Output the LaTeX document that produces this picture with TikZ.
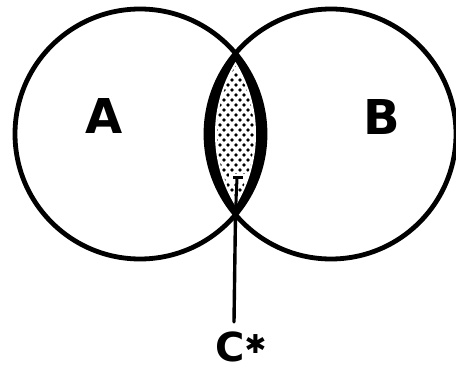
\documentclass[tikz,border=0pt]{standalone}
\usepackage{fontspec}
\setmainfont{DejaVu Sans}
\begin{document}
\begin{tikzpicture}[x=1pt,y=-1pt,
  ring/.style={line width=4.8pt},
  lbl/.style={font=\fontsize{48}{48}\selectfont\bfseries, inner sep=0pt},
  lead/.style={line width=3.4pt, line cap=round},
  tmark/.style={line width=3pt}]
\useasboundingbox (0,0) rectangle (456,369);
\coordinate (cl) at (140,134);
\coordinate (cr) at (331,134);
\coordinate (top) at (235.5,54);
\coordinate (bot) at (235.5,214);
% black lens
\begin{scope}
  \clip (cl) circle[radius=125];
  \fill (cr) circle[radius=125];
\end{scope}
% white inner lens
\begin{scope}
  \clip (119,134) circle[radius=137];
  \fill[white] (352,134) circle[radius=137];
\end{scope}
% dots
\begin{scope}
  \clip (119,134) circle[radius=135];
  \clip (352,134) circle[radius=135];
  \foreach \j in {0,...,17} {
    \foreach \i in {0,...,8} {
      \fill (204+\i*8, 55+\j*10) circle[radius=1.9];
      \fill (208+\i*8, 60+\j*10) circle[radius=1.9];
    }
  }
\end{scope}
% circles
\draw[ring] (cl) circle[radius=125];
\draw[ring] (cr) circle[radius=125];
% T mark
\coordinate (tt) at (237,178);
\coordinate (tl) at (233,178);
\coordinate (tr) at (243,178);
\fill[white] (229,174) rectangle (247,183);
\draw[tmark] (tt) -- (bot);
\draw[tmark] (tl) -- (tr);
% labels
\node[lbl] (A) at (104,116) {A};
\node[lbl] (B) at (382,117) {B};
\node[font=\fontsize{40}{40}\selectfont\bfseries, inner sep=0pt, anchor=base west] (C) at (215,361) {C\raisebox{8pt}{\fontsize{26}{26}\selectfont ✱}};
\coordinate (cend) at (234,322);
\draw[lead] (bot) -- (cend);
\end{tikzpicture}
\end{document}
